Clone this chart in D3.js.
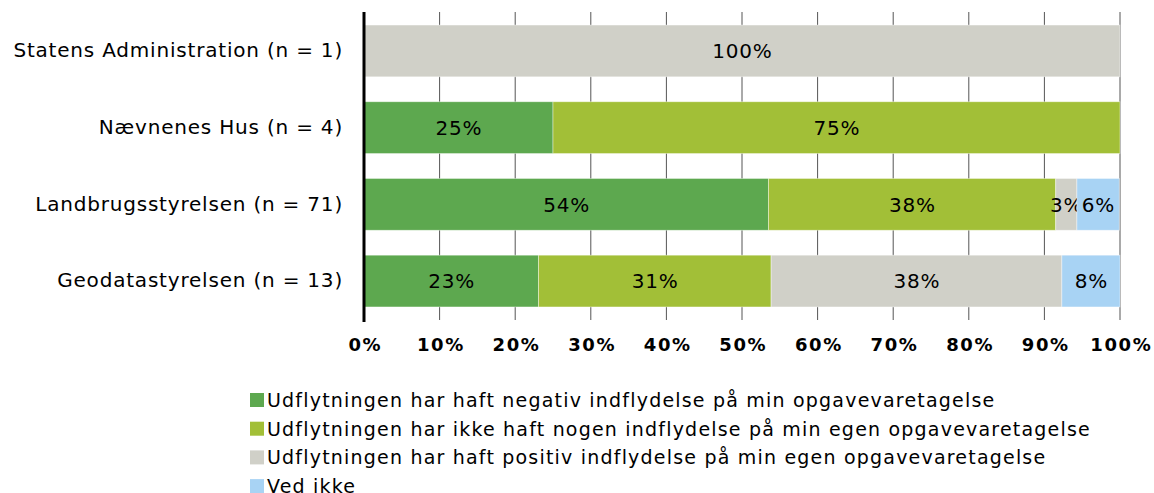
<!DOCTYPE html>
<html>
<head>
<meta charset="utf-8">
<script src="https://cdn.jsdelivr.net/npm/d3@7"></script>
<style>
  body { margin: 0; background: #fff; }
  text { font-family: "DejaVu Sans", Verdana, sans-serif; }
</style>
</head>
<body>
<script>
// categories top to bottom
var categories = ["Statens Administration (n = 1)", "Nævnenes Hus (n = 4)", "Landbrugsstyrelsen (n = 71)", "Geodatastyrelsen (n = 13)"];

var seriesNames = [
  "Udflytningen har haft negativ indflydelse på min opgavevaretagelse",
  "Udflytningen har ikke haft nogen indflydelse på min egen opgavevaretagelse",
  "Udflytningen har haft positiv indflydelse på min egen opgavevaretagelse",
  "Ved ikke"
];

// percentages per category, one array per series
var negativ  = [0, 25, 53.5, 23.08];
var ingen    = [0, 75, 38.0, 30.77];
var positiv  = [100, 0, 2.8, 38.46];
var vedIkke  = [0, 0, 5.6, 7.69];

var tickValues = [0, 10, 20, 30, 40, 50, 60, 70, 80, 90, 100];

var colors = ["#5da84f", "#a2bf37", "#d0d0c8", "#a8d3f4"];

var width = 1154, height = 493;
var margin = {top: 12, left: 364, right: 34};
var plotH = 308;

var svg = d3.select("body").append("svg")
    .attr("width", width)
    .attr("height", height);

var keys = ["negativ", "ingen", "positiv", "vedIkke"];
var rows = categories.map(function(c, i) {
  return {cat: c, negativ: negativ[i], ingen: ingen[i], positiv: positiv[i], vedIkke: vedIkke[i]};
});

var x = d3.scaleLinear().domain([0, 100]).range([margin.left, width - margin.right]);
var y = d3.scaleBand().domain(categories).range([margin.top, margin.top + plotH]).paddingInner(0.325).paddingOuter(0.17);

// gridlines
svg.append("g")
  .selectAll("line")
  .data(tickValues.slice(1))
  .enter().append("line")
    .attr("x1", function(d) { return x(d); })
    .attr("x2", function(d) { return x(d); })
    .attr("y1", margin.top)
    .attr("y2", margin.top + plotH)
    .attr("stroke", "#555")
    .attr("stroke-width", 1);

var stack = d3.stack().keys(keys)(rows);

var layer = svg.append("g")
  .selectAll("g")
  .data(stack)
  .enter().append("g")
    .attr("fill", function(d, i) { return colors[i]; });

layer.selectAll("rect")
  .data(function(d) { return d.filter(function(s) { return s[1] - s[0] > 0; }); })
  .enter().append("rect")
    .attr("x", function(d) { return x(d[0]); })
    .attr("y", function(d) { return y(d.data.cat); })
    .attr("width", function(d) { return x(d[1]) - x(d[0]); })
    .attr("height", y.bandwidth())
    .attr("stroke", "#fff")
    .attr("stroke-opacity", 0.5)
    .attr("stroke-width", 0.8);

layer.selectAll("text")
  .data(function(d) { return d.filter(function(s) { return s[1] - s[0] > 0; }); })
  .enter().append("text")
    .attr("x", function(d) { return (x(d[0]) + x(d[1])) / 2 + 0.4; })
    .attr("y", function(d) { return y(d.data.cat) + y.bandwidth() / 2; })
    .attr("dy", "0.36em")
    .attr("text-anchor", "middle")
    .attr("fill", "#000")
    .style("font-size", "20px")
    .style("letter-spacing", "0.8px")
    .text(function(d) { return Math.round(d[1] - d[0]) + "%"; });

// category labels
var yAxis = svg.append("g")
  .attr("transform", "translate(" + margin.left + ",0)")
  .call(d3.axisLeft(y).tickSize(0).tickPadding(21));
yAxis.select(".domain").remove();
yAxis.selectAll("text")
  .style("font-family", "DejaVu Sans, Verdana, sans-serif")
  .style("font-size", "20px")
  .style("letter-spacing", "0.8px")
  .attr("fill", "#000");

// x axis labels
var xAxis = svg.append("g")
  .attr("transform", "translate(0," + (margin.top + plotH) + ")")
  .call(d3.axisBottom(x).tickValues(tickValues).tickSize(0).tickPadding(18)
    .tickFormat(function(d) { return d + "%"; }));
xAxis.select(".domain").remove();
xAxis.selectAll("text")
  .style("font-family", "DejaVu Sans, Verdana, sans-serif")
  .style("font-size", "18px")
  .style("font-weight", "bold")
  .style("letter-spacing", "1.6px")
  .attr("dx", "0.8px")
  .attr("fill", "#000");

// thick left axis line
svg.append("line")
  .attr("x1", x(0)).attr("x2", x(0))
  .attr("y1", margin.top).attr("y2", margin.top + plotH + 2)
  .attr("stroke", "#000")
  .attr("stroke-width", 3);

// legend
var legend = svg.append("g")
  .selectAll("g")
  .data(seriesNames)
  .enter().append("g")
    .attr("transform", function(d, i) { return "translate(250," + (400 + i * 28.7) + ")"; });

legend.append("rect")
  .attr("x", 0).attr("y", -7)
  .attr("width", 14).attr("height", 14)
  .attr("fill", function(d, i) { return colors[i]; });

legend.append("text")
  .attr("x", 17)
  .attr("dy", "0.36em")
  .style("font-size", "19px")
  .style("letter-spacing", "1.2px")
  .attr("fill", "#000")
  .text(function(d) { return d; });
</script>
</body>
</html>
